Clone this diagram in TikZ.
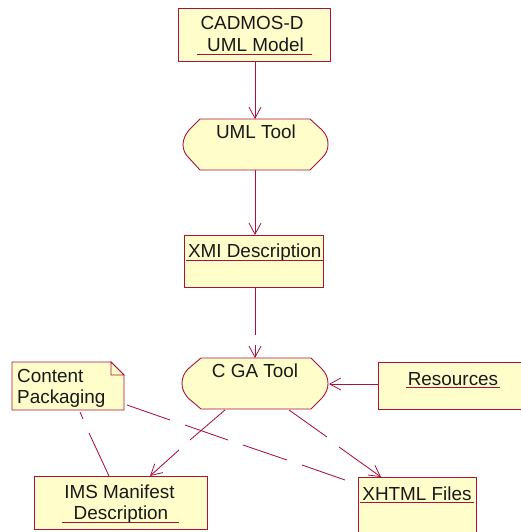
\documentclass[tikz,border=0pt]{standalone}
\usepackage{fontspec}
\setmainfont{Liberation Sans}
\usetikzlibrary{arrows.meta}
\definecolor{umlline}{HTML}{A8123F}
\definecolor{umlfill}{HTML}{FFFDC9}
\tikzset{
  x=1pt,y=-1pt,
  shapeline/.style={draw=umlline,fill=umlfill,line width=0.9pt,line join=miter},
  link/.style={draw=umlline,line width=0.85pt},
  headlink/.style={link,-{Straight Barb[length=11pt,width=12pt,line width=0.8pt]}},
  txt/.style={inner sep=0pt,text=black!90,font=\fontsize{18.9}{21}\selectfont,anchor=base},
  uline/.style={draw=umlline,line width=0.85pt},
  boxnode/.style={shapeline,rectangle,inner sep=0pt,anchor=north west}
}
\newcommand{\boxat}[5]{\node[boxnode,minimum width=#4pt-0.9pt,minimum height=#5pt-0.9pt] (#1) at (#2,#3) {};}
\begin{document}
\begin{tikzpicture}
\useasboundingbox (0,0) rectangle (520,532);
% boxes
\boxat{cad}{178}{8}{153}{54}
\boxat{xmi}{184}{235}{140}{53}
\boxat{res}{378}{362}{150}{48}
\boxat{ims}{34}{476}{174}{54}
\boxat{xht}{358}{477}{119}{58}
% tools
\path[shapeline] (200,119) -- (310,119) -- (322,130) .. controls (327,135) and (328,140) .. (328,144.5) .. controls (328,150) and (326,154) .. (322,158) -- (310,170) -- (200,170) -- (189,158) .. controls (185,154) and (183,150) .. (183,144.5) .. controls (183,140) and (185,135) .. (189,130) -- cycle;
\coordinate (umlT) at (255,119); \coordinate (umlB) at (255,170);
\path[shapeline] (201,358) -- (311,358) -- (322,369) .. controls (326,373) and (328,378) .. (328,383.5) .. controls (328,389) and (326,393) .. (322,398) -- (311,409) -- (201,409) -- (188,398) .. controls (184,393) and (182,389) .. (182,383.5) .. controls (182,378) and (184,373) .. (188,369) -- cycle;
\coordinate (cgaT) at (255,358); \coordinate (cgaR) at (329,384);
\coordinate (cgaL) at (225,410); \coordinate (cgaD) at (289,410);
% note
\path[shapeline] (12,362) -- (111,362) -- (124,375) -- (124,410) -- (12,410) -- cycle;
\path[shapeline] (111,362) -- (111,375) -- (124,375) -- cycle;
\coordinate (noteE) at (127,405); \coordinate (noteS) at (80,412);
% text
\node[txt] (t1) at (252,30) {CADMOS-D};
\node[txt] (t2) at (255.5,52) {UML Model};
\node[txt] (t3) at (256,138) {UML Tool};
\node[txt] (t4) at (254.7,257) {XMI Description};
\node[txt] (t5) at (255,377) {C GA Tool};
\node[txt] (t6) at (453,385) {Resources};
\node[txt] (t7) at (119.5,498) {IMS Manifest};
\node[txt] (t8) at (121,519) {Description};
\node[txt] (t9) at (417,500) {XHTML Files};
\node[txt,anchor=base west] (t10) at (17,382) {Content};
\node[txt,anchor=base west] (t11) at (17,403) {Packaging};
% underlines
\draw[uline] (197,54.5) -- (312,54.5);
\draw[uline] (186,260) -- (323,260);
\draw[uline] (406,387) -- (500,387);
\draw[uline] (62,522) -- (179,522);
\draw[uline] (360,502) -- (474,502);
% connectors
\draw[headlink] (cad.south -| umlT) -- (umlT);
\draw[headlink] (umlB) -- (xmi.north -| umlB);
\coordinate (g1a) at (255,335); \coordinate (g1b) at (255,345);
\draw[link] (xmi.south -| g1a) -- (g1a);
\draw[headlink] (g1b) -- (cgaT);
\draw[headlink] (res.west |- cgaR) -- (cgaR);
\coordinate (g2a) at (190,440); \coordinate (g2b) at (179,450);
\draw[link] (cgaL) -- (g2a);
\draw[headlink] (g2b) -- (ims.north -| 150,0);
\coordinate (g3a) at (327,437); \coordinate (g3b) at (339,447);
\draw[link] (cgaD) -- (g3a);
\draw[headlink] (g3b) -- (xht.north -| 381,0);
\coordinate (g4a) at (83,419); \coordinate (g4b) at (89,433);
\draw[link] (noteS) -- (g4a);
\draw[link] (g4b) -- (ims.north -| 109,0);
\coordinate (g5a) at (170,420); \coordinate (g5b) at (185,425);
\coordinate (g5c) at (228,440); \coordinate (g5d) at (243,445);
\coordinate (g5e) at (287,460); \coordinate (g5f) at (302,465);
\coordinate (xhtL) at (345,480);
\draw[link] (noteE) -- (g5a);
\draw[link] (g5b) -- (g5c);
\draw[link] (g5d) -- (g5e);
\draw[link] (g5f) -- (xhtL);
\end{tikzpicture}
\end{document}
